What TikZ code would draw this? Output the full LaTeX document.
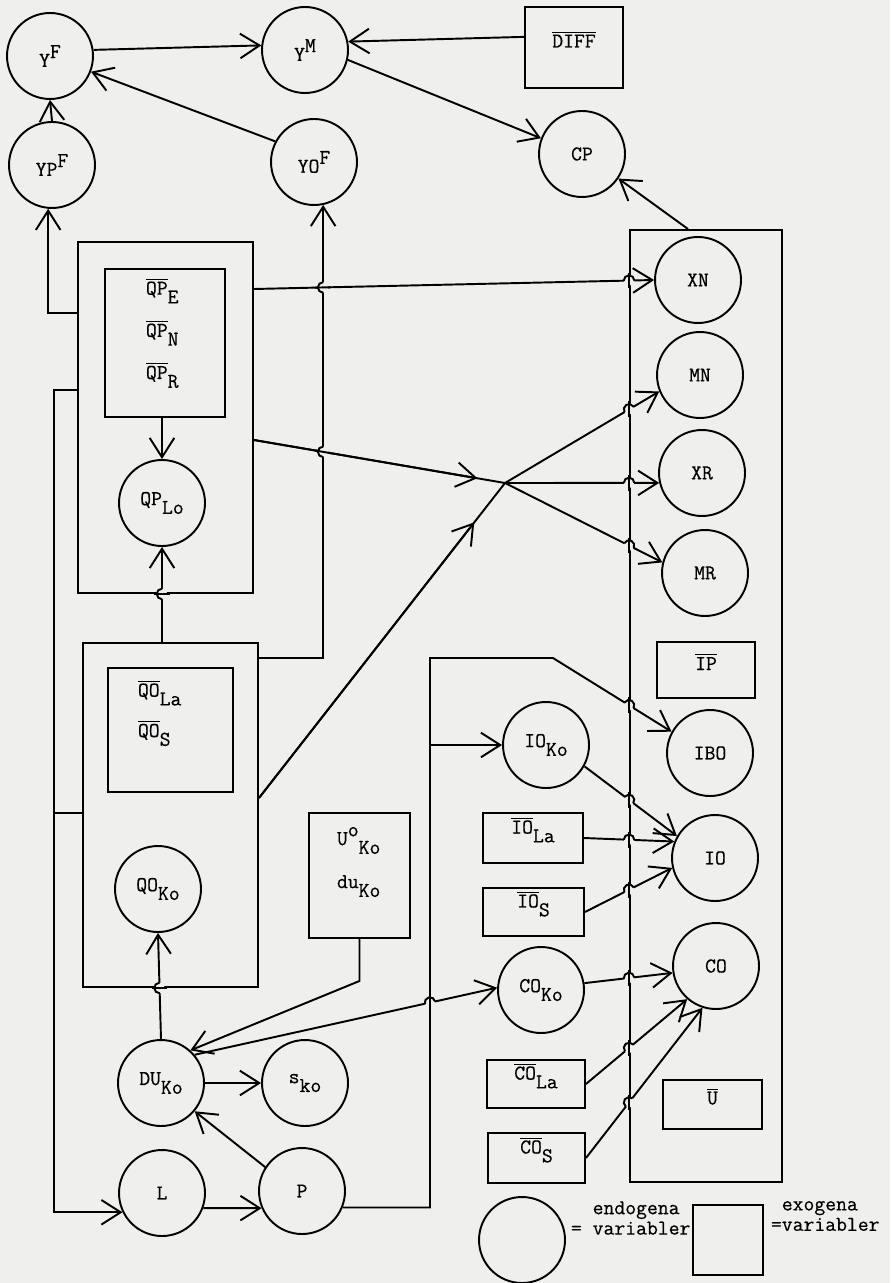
\documentclass[tikz,border=0pt]{standalone}
\usepackage{fontspec}
\usepackage{tikz}
\usetikzlibrary{arrows.meta,calc,fit,intersections}
\newfontfamily\tw{Latin Modern Mono}[FakeBold=0.5]
\definecolor{paper}{RGB}{239,239,237}

\newcommand\ovl[1]{$\overline{\hbox{#1}}$}
\newcommand\sub[1]{\raisebox{-5pt}{#1}}
\newcommand\hi[1]{\raisebox{5pt}{#1}}
% bridge: line #1--#2 jumps over line #3--#4
\newcommand\hop[4]{%
  \path[name path=hmv] #1 -- #2;
  \path[name path=hcr] #3 -- #4;
  \path[name intersections={of=hmv and hcr, by=hx}];
  \fill[paper] (hx) circle (3pt);
  \draw let \p1=($#4-#3$), \n1={atan2(\y1,\x1)} in
    ($(hx)+(\n1:4.5pt)$) -- ($(hx)+(\n1+180:4.5pt)$);
  \draw let \p1=($#2-#1$), \n1={atan2(\y1,\x1)} in
    ($(hx)+(\n1+180:3pt)$) arc[start angle=\n1+180, end angle=\n1, radius=3pt];
}

\begin{document}
\begin{tikzpicture}[
    x=0.02cm, y=-0.02cm,
    line width=1.1pt,
    endo/.style={circle, draw, minimum size=1.72cm, inner sep=0pt},
    exo/.style={rectangle, draw, inner sep=0pt},
    txt/.style={align=left, inner sep=0pt},
    arr/.style={-{Straight Barb[length=11pt, width=14pt]}},
    every node/.style={font=\tw\fontsize{12}{14}\selectfont}
]
    \fill[paper] (0,0) rectangle (890,1283);
    \useasboundingbox (0,0) rectangle (890,1283);

    % top: income and prices
    \node[endo] (YF) at (50,56) {Y\hi{F}};
    \node[endo] (YM) at (305,50) {Y\hi{M}};
    \node[endo] (YPF) at (52,165) {YP\hi{F}};
    \node[endo] (YOF) at (314,162) {YO\hi{F}};
    \node[endo] (CP) at (582,154) {CP};
    \node[exo, fit={(525,7) (623,88)}] (DIFF) {\ovl{DIFF}};

    % right column
    \node[exo, fit={(630,230) (782,1182)}] (RBox) {};
    \node[endo] (XN) at (698,280) {XN};
    \node[endo] (MN) at (700,375) {MN};
    \node[endo] (XR) at (702,473) {XR};
    \node[endo] (MR) at (705,573) {MR};
    \node[exo, fit={(657,642) (755,698)}] (IP) {\ovl{IP}};
    \node[endo] (IBO) at (710,753) {IBO};
    \node[endo] (IO) at (715,858) {IO};
    \node[endo] (CO) at (716,966) {CO};
    \node[exo, fit={(663,1080) (762,1129)}] (Ubar) {\ovl{U}};

    % production blocks
    \node[exo, fit={(78,242) (253,593)}] (QPbox) {};
    \node[exo, fit={(105,269) (225,417)}] (QPin) {};
    \node[txt, anchor=west, font=\tw\fontsize{12}{24}\selectfont] (QPtxt) at (145,333)
        {\ovl{QP}\sub{E}\\\ovl{QP}\sub{N}\\\ovl{QP}\sub{R}};
    \node[endo] (QPlo) at (162,503) {QP\sub{Lo}};
    \node[exo, fit={(83,643) (258,987)}] (QObox) {};
    \node[exo, fit={(108,668) (233,792)}] (QOin) {};
    \node[txt, anchor=west, font=\tw\fontsize{12}{23}\selectfont] (QOtxt) at (137,713)
        {\ovl{QO}\sub{La}\\\ovl{QO}\sub{S}};
    \node[endo] (QOko) at (158,889) {QO\sub{Ko}};
    \node[exo, fit={(309,813) (410,938)}] (Ubox) {};
    \node[txt, anchor=west, font=\tw\fontsize{12}{24.5}\selectfont] (Utxt) at (336,862)
        {U\hi{o}\sub{Ko}\\du\sub{Ko}};

    % employment
    \node[endo] (DUko) at (161,1083) {DU\sub{Ko}};
    \node[endo] (sko) at (305,1083) {s\sub{ko}};
    \node[endo] (L) at (162,1193) {L};
    \node[endo] (P) at (302,1191) {P};

    % investment and consumption
    \node[endo] (IOko) at (546,745) {IO\sub{Ko}};
    \node[exo, fit={(483,813) (583,863)}] (IOla) {\ovl{IO}\sub{La}};
    \node[exo, fit={(483,888) (584,936)}] (IOs) {\ovl{IO}\sub{S}};
    \node[endo] (COko) at (541,990) {CO\sub{Ko}};
    \node[exo, fit={(487,1060) (585,1108)}] (COla) {\ovl{CO}\sub{La}};
    \node[exo, fit={(488,1133) (585,1183)}] (COs) {\ovl{CO}\sub{S}};

    % legend
    \node[endo] (endokey) at (522,1240) {};
    \node[txt, anchor=west, font=\tw\fontsize{12}{11.6}\selectfont] (endotxt) at (570,1218)
        {\hphantom{=}\ endogena\\= variabler};
    \node[exo, fit={(693,1205) (763,1275)}] (exokey) {};
    \node[txt, anchor=west, font=\tw\fontsize{12}{11.6}\selectfont] (exotxt) at (770,1216)
        {\hphantom{=}exogena\\=variabler};

    \coordinate (J) at (505,483);
    \coordinate (lbus) at (54,390);
    \coordinate (pbus) at (430,658);
    \coordinate (pknee) at (553,658);

    \draw[arr] (YF.8) -- (YM.174);
    \draw[arr] (DIFF.168) -- (YM.11);
    \draw[arr] (YM.-13) -- (CP.159);
    \draw[arr] (YOF.152) -- (YF.-21);
    \draw[arr] (YPF.north) -- (YF.south);
    \draw[arr] (688,0 |- RBox.north) -- (CP.-34);

    \draw[arr] (QPbox.west |- 0,313) -| (YPF.-95);
    \draw[arr] (QObox.east |- 0,658) -| (YOF.-78);
    \draw[arr] (QPbox.east |- 0,289) -- (XN.west);
    \draw (QPbox.east |- 0,440) -- (J);
    \draw[arr] (QPbox.east |- 0,440) -- ($(J)!0.56cm!(QPbox.east |- 0,440)$);
    \draw (QObox.east |- 0,798) -- (J);
    \draw[arr] (QObox.east |- 0,798) -- ($(J)!1cm!(QObox.east |- 0,798)$);
    \draw[arr] (J) -- (MN.202);
    \draw[arr] (J) -- (XR.193);
    \draw[arr] (J) -- (MR.166);

    \draw[arr] (QPlo.north |- QPin.south) -- (QPlo.north);
    \draw[arr] (QPlo.south |- QObox.north) -- (QPlo.south);
    \draw[arr] (DUko.north) -- (QOko.south);
    \draw[arr] (Ubox.south) -- ++(0,42) -- (DUko.48);
    \draw[arr] (DUko.40) -- (COko.177);
    \draw[arr] (DUko.east) -- (sko.west);
    \draw[arr] (P.147) -- (DUko.-40);
    \draw[arr] (L.-20) -- (P.203);
    \draw[arr] (QPbox.west |- lbus) -- (lbus) |- (L.206);
    \draw (QObox.west |- 0,813) -- (lbus |- 0,813);

    \draw[arr] (P.-22) -| (pbus) -- (pknee) -- (IBO.151);
    \draw[arr] (pbus |- IOko.west) -- (IOko.west);
    \draw[arr] (IOko.-29) -- (IO.150);
    \draw[arr] (IOla.east) -- (IO.158);
    \draw[arr] (IOs.east) -- (IO.193);
    \draw[arr] (COko.9) -- (CO.189);
    \draw[arr] (COla.east) -- (CO.229);
    \draw[arr] (COs.east) -- (CO.252);

    % bridges
    \hop{(YOF.-78 |- 0,658)}{(YOF.-78)}{(QPbox.east |- 0,289)}{(XN.west)}
    \hop{(YOF.-78 |- 0,658)}{(YOF.-78)}{(QPbox.east |- 0,440)}{(J)}
    \hop{(QPlo.south |- QObox.north)}{(QPlo.south)}{(QPbox.south west)}{(QPbox.south east)}
    \hop{(DUko.north)}{(QOko.south)}{(QObox.south west)}{(QObox.south east)}
    \hop{(DUko.40)}{(COko.177)}{(pbus)}{(pbus |- P.-22)}
    \hop{(QPbox.east |- 0,289)}{(XN.west)}{(RBox.north west)}{(RBox.south west)}
    \hop{(J)}{(MN.202)}{(RBox.north west)}{(RBox.south west)}
    \hop{(J)}{(XR.193)}{(RBox.north west)}{(RBox.south west)}
    \hop{(J)}{(MR.166)}{(RBox.north west)}{(RBox.south west)}
    \hop{(pknee)}{(IBO.151)}{(RBox.north west)}{(RBox.south west)}
    \hop{(IOko.-29)}{(IO.150)}{(RBox.north west)}{(RBox.south west)}
    \hop{(IOla.east)}{(IO.158)}{(RBox.north west)}{(RBox.south west)}
    \hop{(IOs.east)}{(IO.193)}{(RBox.north west)}{(RBox.south west)}
    \hop{(COko.9)}{(CO.189)}{(RBox.north west)}{(RBox.south west)}
    \hop{(COla.east)}{(CO.229)}{(RBox.north west)}{(RBox.south west)}
    \hop{(COs.east)}{(CO.252)}{(RBox.north west)}{(RBox.south west)}
\end{tikzpicture}
\end{document}
